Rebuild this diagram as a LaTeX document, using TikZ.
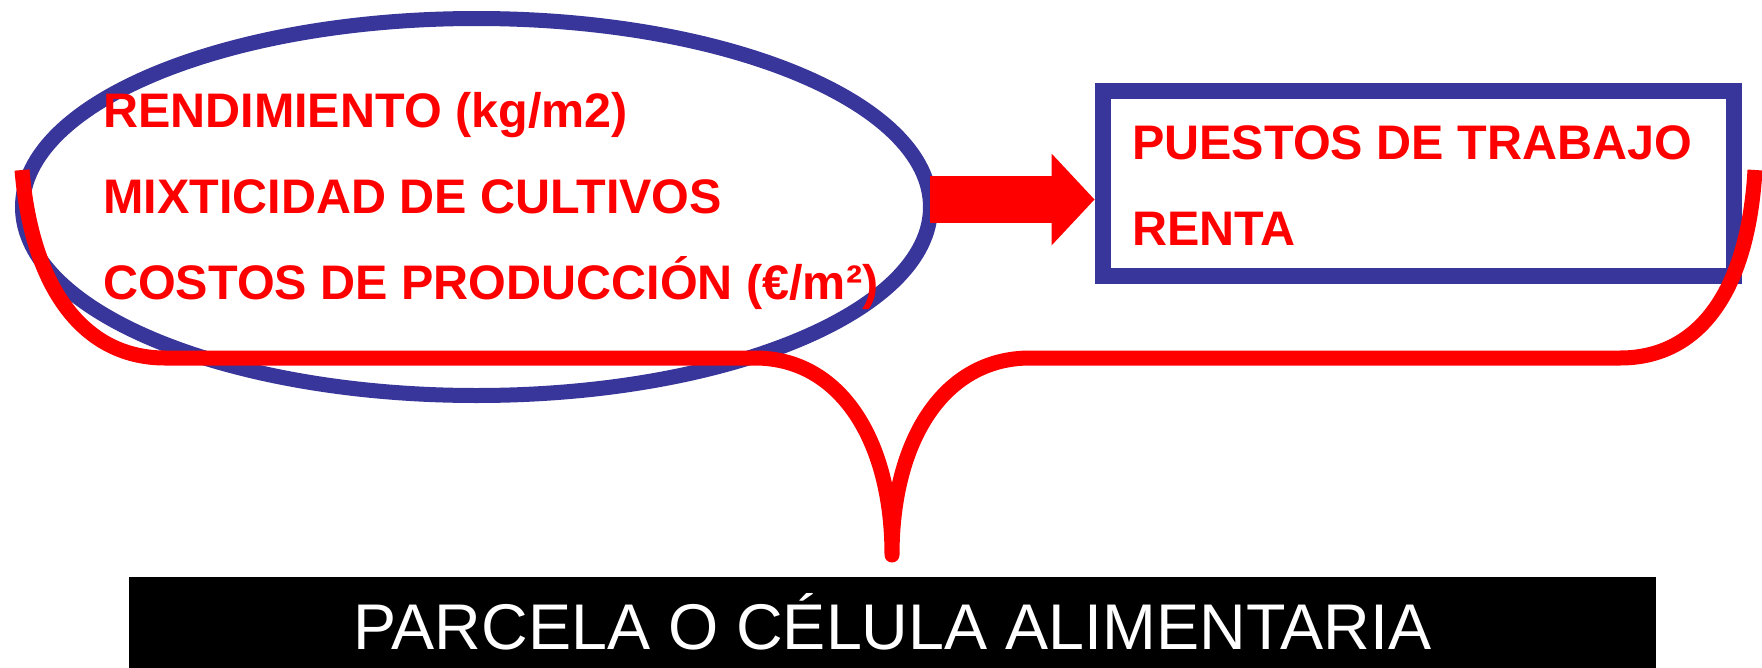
\documentclass[tikz,border=0pt]{standalone}
\usepackage{fontspec}
\setmainfont{Liberation Sans}
\usetikzlibrary{shapes.geometric,arrows.meta}
\definecolor{ringblue}{RGB}{56,54,154}

\begin{document}
\begin{tikzpicture}[
    x=1pt, y=-1pt,
    ring/.style = {draw=ringblue, ellipse, line width=15pt, minimum width=908pt, minimum height=377pt, inner sep=0pt},
    outbox/.style = {draw=ringblue, rectangle, line width=16pt, minimum width=631pt, minimum height=185pt, inner sep=0pt},
    item/.style = {anchor=base west, inner sep=0pt, text=red, font=\fontsize{48.5}{58}\selectfont\bfseries},
    brace/.style = {draw=red, line width=15pt, line join=round},
    flow/.style = {red, line width=47pt, -{Triangle[length=43pt, width=92pt, line width=0pt]}},
    bar/.style = {fill=black, text=white, minimum width=1527pt, minimum height=99pt, inner sep=0pt, text height=45pt, text depth=0pt, font=\fontsize{64.6}{76}\selectfont}
]
    \useasboundingbox (0,0) rectangle (1762,667);

    % left: what the plot yields
    \node[ring] (crop) at (476.5,207) {};
    \node[item] (yield) at (103,127) {RENDIMIENTO (kg/m2)};
    \node[item] (mix) at (103,213) {MIXTICIDAD DE CULTIVOS};
    \node[item] (cost) at (103,299) {COSTOS DE PRODUCCIÓN (€/m²)};

    % right: what it gives back
    \node[outbox] (result) at (1418,183) {};
    \node[item] (jobs) at (1132,159) {PUESTOS DE TRABAJO};
    \node[item] (income) at (1132,245) {RENTA};

    \draw[flow] ([xshift=-8pt, yshift=7.5pt]crop.east) -- ([yshift=7.5pt]crop.east -| result.west);

    % brace over both
    \coordinate (bl) at (22,170);
    \coordinate (tip) at (892,555);
    \coordinate (br) at (1755,170);
    \draw[brace] (bl) .. controls (32,290) and (85,358) .. (165,358) -- (755,358)
        .. controls (840,358) and (892,440) .. (tip)
        .. controls (892,440) and (944,358) .. (1030,358) -- (1620,358)
        .. controls (1700,358) and (1748,290) .. (br);

    \node[bar] (plot) at (892.5,626.5) {PARCELA O CÉLULA ALIMENTARIA};
\end{tikzpicture}
\end{document}
